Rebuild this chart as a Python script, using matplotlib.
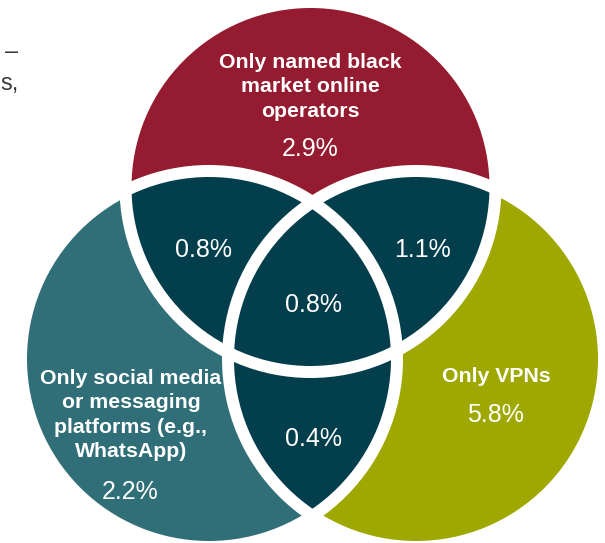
import matplotlib.pyplot as plt
from matplotlib.patches import Circle

# share of respondents by channel combination (%)
set_names = [
    "Only named black\nmarket online\noperators",
    "Only social media\nor messaging\nplatforms (e.g.,\nWhatsApp)",
    "Only VPNs",
]
only_values = [2.9, 2.2, 5.8]
pair_names = ["black market + social", "black market + VPNs", "social + VPNs"]
pair_values = [0.8, 1.1, 0.4]
all_three_value = 0.8

set_colors = ["#951c30", "#306f78", "#9fa800"]
overlap_color = "#033e4d"

# circle geometry in pixel units (x right, y down)
centers = [(310.5, 187), (209, 359), (416, 359)]
radii = [185, 188, 188]
ring_px = 12

W, H, DPI = 605, 543, 100
plt.rcParams["font.family"] = ["Liberation Sans", "DejaVu Sans"]

fig = plt.figure(figsize=(W / DPI, H / DPI), dpi=DPI)
ax = fig.add_axes([0, 0, 1, 1])
ax.set_xlim(0, W)
ax.set_ylim(H, 0)
ax.set_aspect("equal")
ax.axis("off")

# base fills
for c, r, col in zip(centers, radii, set_colors):
    ax.add_patch(Circle(c, r, facecolor=col, edgecolor="none", zorder=1))

# pairwise overlaps in the dark tone (covers the triple overlap too)
for i, j in [(0, 1), (0, 2), (1, 2)]:
    clip = Circle(centers[j], radii[j], transform=ax.transData)
    p = Circle(centers[i], radii[i], facecolor=overlap_color, edgecolor="none", zorder=2)
    ax.add_patch(p)
    p.set_clip_path(clip)

# white rings on top
lw = ring_px * 72 / DPI
for c, r in zip(centers, radii):
    ax.add_patch(Circle(c, r, fill=False, edgecolor="white", lw=lw, zorder=3))

bold = dict(color="white", fontsize=15.3, fontweight="bold", ha="center", va="center",
            linespacing=1.37, zorder=4)
num = dict(color="white", fontsize=18, ha="center", va="center", zorder=4)

# set labels and exclusive shares
label_pos = [(310, 87), (131, 415), (496, 377)]
value_pos = [(310, 149), (130, 492), (495, 415)]
for name, v, lp, vp in zip(set_names, only_values, label_pos, value_pos):
    ax.text(*lp, name, **bold)
    ax.text(*vp, f"{v:.1f}%", **num)

# overlap shares
pair_pos = [(203, 250), (422, 250), (313, 439)]
for v, pp in zip(pair_values, pair_pos):
    ax.text(*pp, f"{v:.1f}%", **num)
ax.text(313, 305, f"{all_three_value:.1f}%", **num)

# tail of the neighbouring caption text
ax.text(18, 52, "–", color="#3a3a3a", fontsize=17, ha="right", va="center")
ax.text(0, 84, "s,", color="#3a3a3a", fontsize=17, ha="left", va="center")

fig.savefig("out.png", dpi=DPI)
